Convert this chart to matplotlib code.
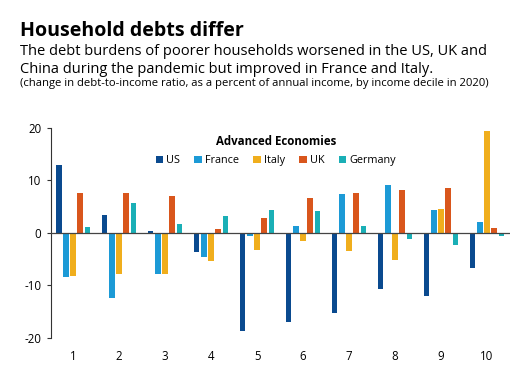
import matplotlib
matplotlib.use("Agg")
import matplotlib.pyplot as plt
from matplotlib.patches import Patch
import numpy as np

plt.rcParams['font.family'] = ['Open Sans', 'DejaVu Sans']

deciles = ["1", "2", "3", "4", "5", "6", "7", "8", "9", "10"]
series_names = ["US", "France", "Italy", "UK", "Germany"]
us      = [13.0, 3.4, 0.3, -3.6, -18.7, -16.9, -15.2, -10.7, -12.0, -6.7]
france  = [-8.4, -12.4, -7.8, -4.5, -0.5, 1.3, 7.4, 9.1, 4.3, 2.0]
italy   = [-8.2, -7.8, -7.8, -5.3, -3.2, -1.5, -3.4, -5.1, 4.6, 19.4]
uk      = [7.6, 7.7, 7.1, 0.8, 2.8, 6.7, 7.7, 8.2, 8.5, 1.0]
germany = [1.1, 5.7, 1.7, 3.2, 4.4, 4.1, 1.4, -1.1, -2.2, -0.6]
yticks = [-20, -10, 0, 10, 20]

colors = ["#0A4A8F", "#1C9AD6", "#F0AE1D", "#D9561C", "#1AAFB6"]
values = [us, france, italy, uk, germany]

fig = plt.figure(figsize=(5.19, 3.79), dpi=100)
ax = fig.add_axes([0.0983, 0.1082, 0.8844, 0.5541])

x = np.arange(1, len(deciles) + 1)
step = 0.157
width = 0.124
for i, (vals, col) in enumerate(zip(values, colors)):
    ax.bar(x + (i - 2) * step, vals, width=width, color=col, zorder=2)

ax.axhline(0, color="#444444", linewidth=0.9, zorder=3)
ax.set_xlim(0.52, 10.5)
ax.set_ylim(-20, 20)
ax.set_yticks(yticks)
ax.set_yticklabels([str(t) for t in yticks], fontsize=8.3)
ax.set_xticks(x)
ax.set_xticklabels(deciles, fontsize=8.3)
ax.tick_params(axis='x', length=0, pad=9)
ax.tick_params(axis='y', length=3, width=0.8, pad=4, color="#333333")
for s in ["top", "right", "bottom"]:
    ax.spines[s].set_visible(False)
ax.spines["left"].set_linewidth(0.8)
ax.spines["left"].set_color("#333333")

handles = [Patch(facecolor=c, edgecolor='none') for c in colors]
leg = ax.legend(handles, series_names, ncol=5, loc='upper center',
                bbox_to_anchor=(0.49, 1.015), frameon=False, fontsize=7.8,
                title="Advanced Economies", handlelength=0.7, handleheight=0.7,
                handletextpad=0.3, columnspacing=1.3, labelspacing=0.7)
leg.get_title().set_fontweight('bold')
leg.get_title().set_fontsize(8.3)

fig.text(0.0385, 0.905, "Household debts differ", fontsize=14.1, fontweight='bold',
         ha='left', va='baseline')
fig.text(0.0385, 0.855, "The debt burdens of poorer households worsened in the US, UK and",
         fontsize=10.55, ha='left', va='baseline')
fig.text(0.0385, 0.808, "China during the pandemic but improved in France and Italy.",
         fontsize=10.55, ha='left', va='baseline')
fig.text(0.0385, 0.773, "(change in debt-to-income ratio, as a percent of annual income, by income decile in 2020)",
         fontsize=8.1, ha='left', va='baseline')

fig.savefig("out.png", dpi=100)
